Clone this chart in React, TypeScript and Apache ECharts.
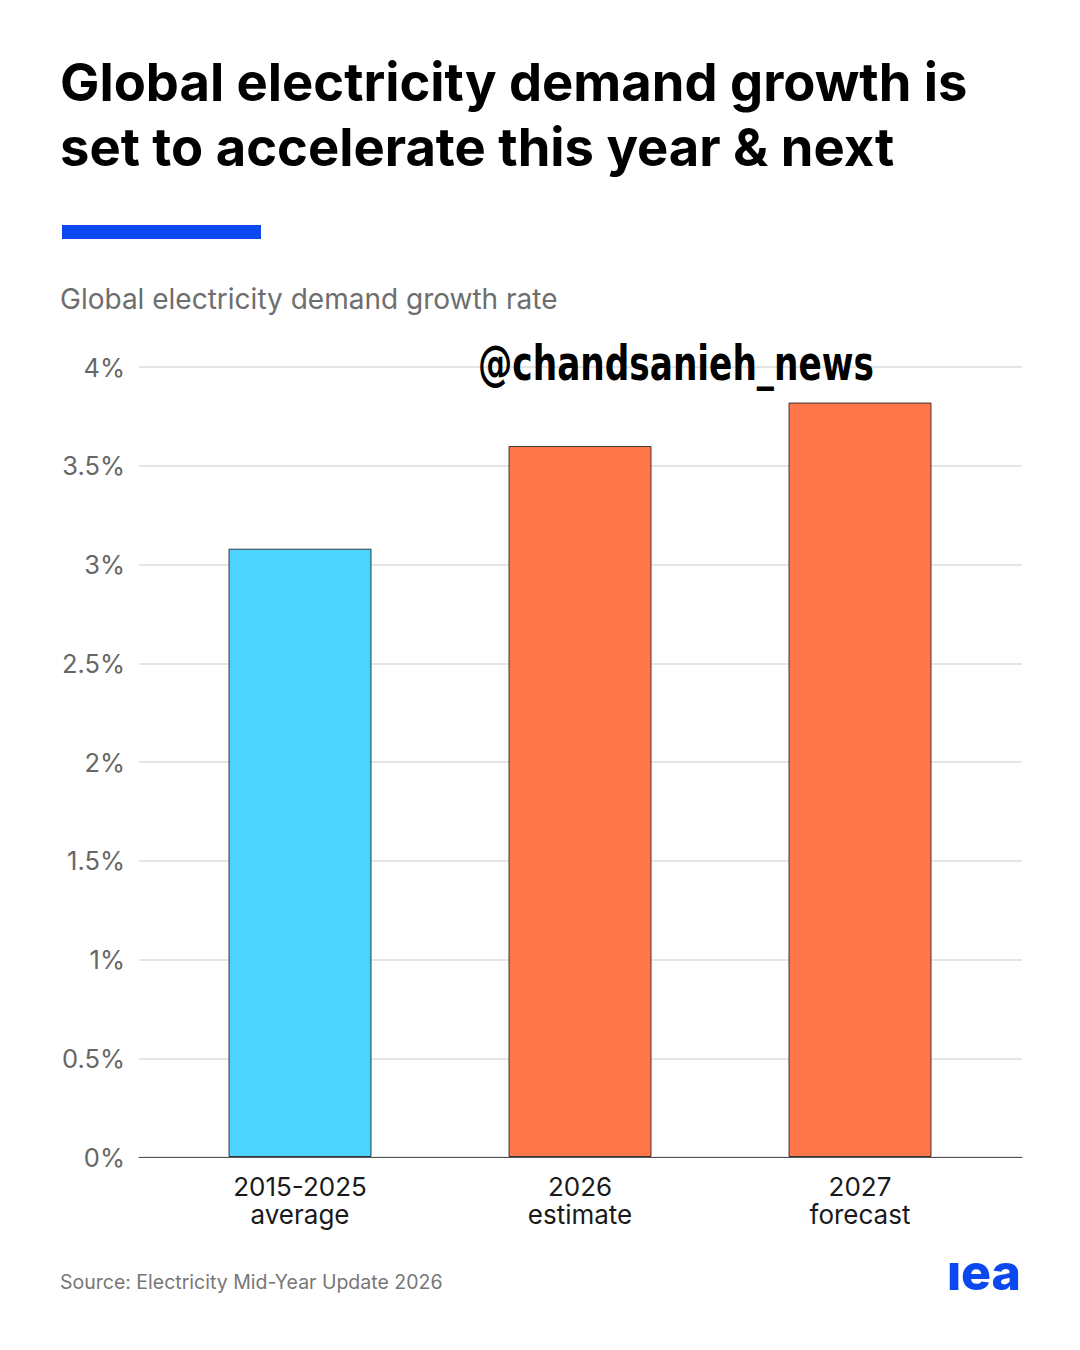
import React, { useEffect, useRef } from "react";
import * as echarts from "echarts";

const categories = ["2015-2025\naverage", "2026\nestimate", "2027\nforecast"];
const growthValues = [3.08, 3.6, 3.82];
const barColors = ["#4cd3fe", "#ff764a", "#ff764a"];
const yTicks = { min: 0, max: 4, interval: 0.5 };

const TITLE = "Global electricity demand growth is\nset to accelerate this year & next";
const SUBTITLE = "Global electricity demand growth rate";
const SOURCE = "Source: Electricity Mid-Year Update 2026";
const WATERMARK = "@chandsanieh_news";
const FONT = "Inter, 'Noto Sans', sans-serif";

export default function App() {
  const ref = useRef<HTMLDivElement>(null);
  useEffect(() => {
    if (!ref.current) return;
    const chart = echarts.init(ref.current, undefined, { renderer: "svg" });
    const option: any = {
      animation: false,
      backgroundColor: "#ffffff",
      grid: [
        { left: 139, right: 58, top: 367, bottom: 193 },
        { left: 160, right: 80, top: 367, bottom: 193 },
      ],
      xAxis: [
        {
          gridIndex: 0,
          type: "value",
          min: 0,
          max: 1,
          axisLine: { show: true, onZero: false, lineStyle: { color: "#555", width: 1.2 } },
          axisTick: { show: false },
          axisLabel: { show: false },
          splitLine: { show: false },
        },
        {
          gridIndex: 1,
          type: "category",
          data: categories,
          axisLine: { show: false },
          axisTick: { show: false },
          axisLabel: {
            margin: 15,
            fontSize: 26,
            lineHeight: 28,
            color: "#1a1a1a",
            fontFamily: FONT,
          },
        },
      ],
      yAxis: [
        {
          gridIndex: 0,
          type: "value",
          min: yTicks.min,
          max: yTicks.max,
          interval: yTicks.interval,
          axisLine: { show: false },
          axisTick: { show: false },
          axisLabel: {
            margin: 14,
            fontSize: 25.5,
            color: "#676767",
            fontFamily: FONT,
            formatter: (v: number) => `${v}%`,
          },
          splitLine: { show: true, lineStyle: { color: "#dcdcdc", width: 1.5 } },
        },
        {
          gridIndex: 1,
          type: "value",
          min: yTicks.min,
          max: yTicks.max,
          show: false,
          splitLine: { show: false },
        },
      ],
      series: [
        {
          type: "bar",
          xAxisIndex: 1,
          yAxisIndex: 1,
          barWidth: 143,
          data: growthValues.map((v, i) => ({
            value: v,
            itemStyle: { color: barColors[i], borderColor: "rgba(30,30,30,0.85)", borderWidth: 1 },
          })),
        },
      ],
      graphic: [
        {
          type: "text",
          x: 60,
          y: 49.5,
          style: {
            text: TITLE,
            fontSize: 52.5,
            fontWeight: 700,
            fontFamily: FONT,
            lineHeight: 65,
            fill: "#000000",
            align: "left",
            verticalAlign: "top",
            textAlign: "left",
            textVerticalAlign: "top",
          },
        },
        {
          type: "rect",
          shape: { x: 62, y: 225, width: 199, height: 14 },
          style: { fill: "#0b48f0" },
        },
        {
          type: "text",
          x: 60,
          y: 299,
          style: {
            text: SUBTITLE,
            fontSize: 28,
            fontWeight: 400,
            fontFamily: FONT,
            fill: "#6e6e6e",
            align: "left",
            verticalAlign: "middle",
            textAlign: "left",
            textVerticalAlign: "middle",
          },
        },
        {
          type: "text",
          x: 478,
          y: 363,
          scaleX: 0.795,
          z: 100,
          style: {
            text: WATERMARK,
            fontSize: 48,
            fontWeight: 700,
            fontFamily: "'Liberation Sans Narrow', 'DejaVu Sans Condensed', sans-serif",
            fill: "#000000",
            align: "left",
            verticalAlign: "middle",
            textAlign: "left",
            textVerticalAlign: "middle",
          },
        },
        {
          type: "text",
          x: 60,
          y: 1282,
          style: {
            text: SOURCE,
            fontSize: 19.5,
            fontWeight: 400,
            fontFamily: FONT,
            fill: "#777777",
            align: "left",
            verticalAlign: "middle",
            textAlign: "left",
            textVerticalAlign: "middle",
          },
        },
        {
          type: "text",
          x: 1021,
          y: 1272,
          style: {
            text: "ıea",
            fontSize: 50,
            fontWeight: 800,
            fontFamily: FONT,
            fill: "#0b48f0",
            align: "right",
            verticalAlign: "middle",
            textAlign: "right",
            textVerticalAlign: "middle",
          },
        },
      ],
    };
    chart.setOption(option);
    return () => chart.dispose();
  }, []);
  return (
    <div
      ref={ref}
      style={{ position: "absolute", left: 0, top: 0, width: 1080, height: 1350, background: "#fff" }}
    />
  );
}
